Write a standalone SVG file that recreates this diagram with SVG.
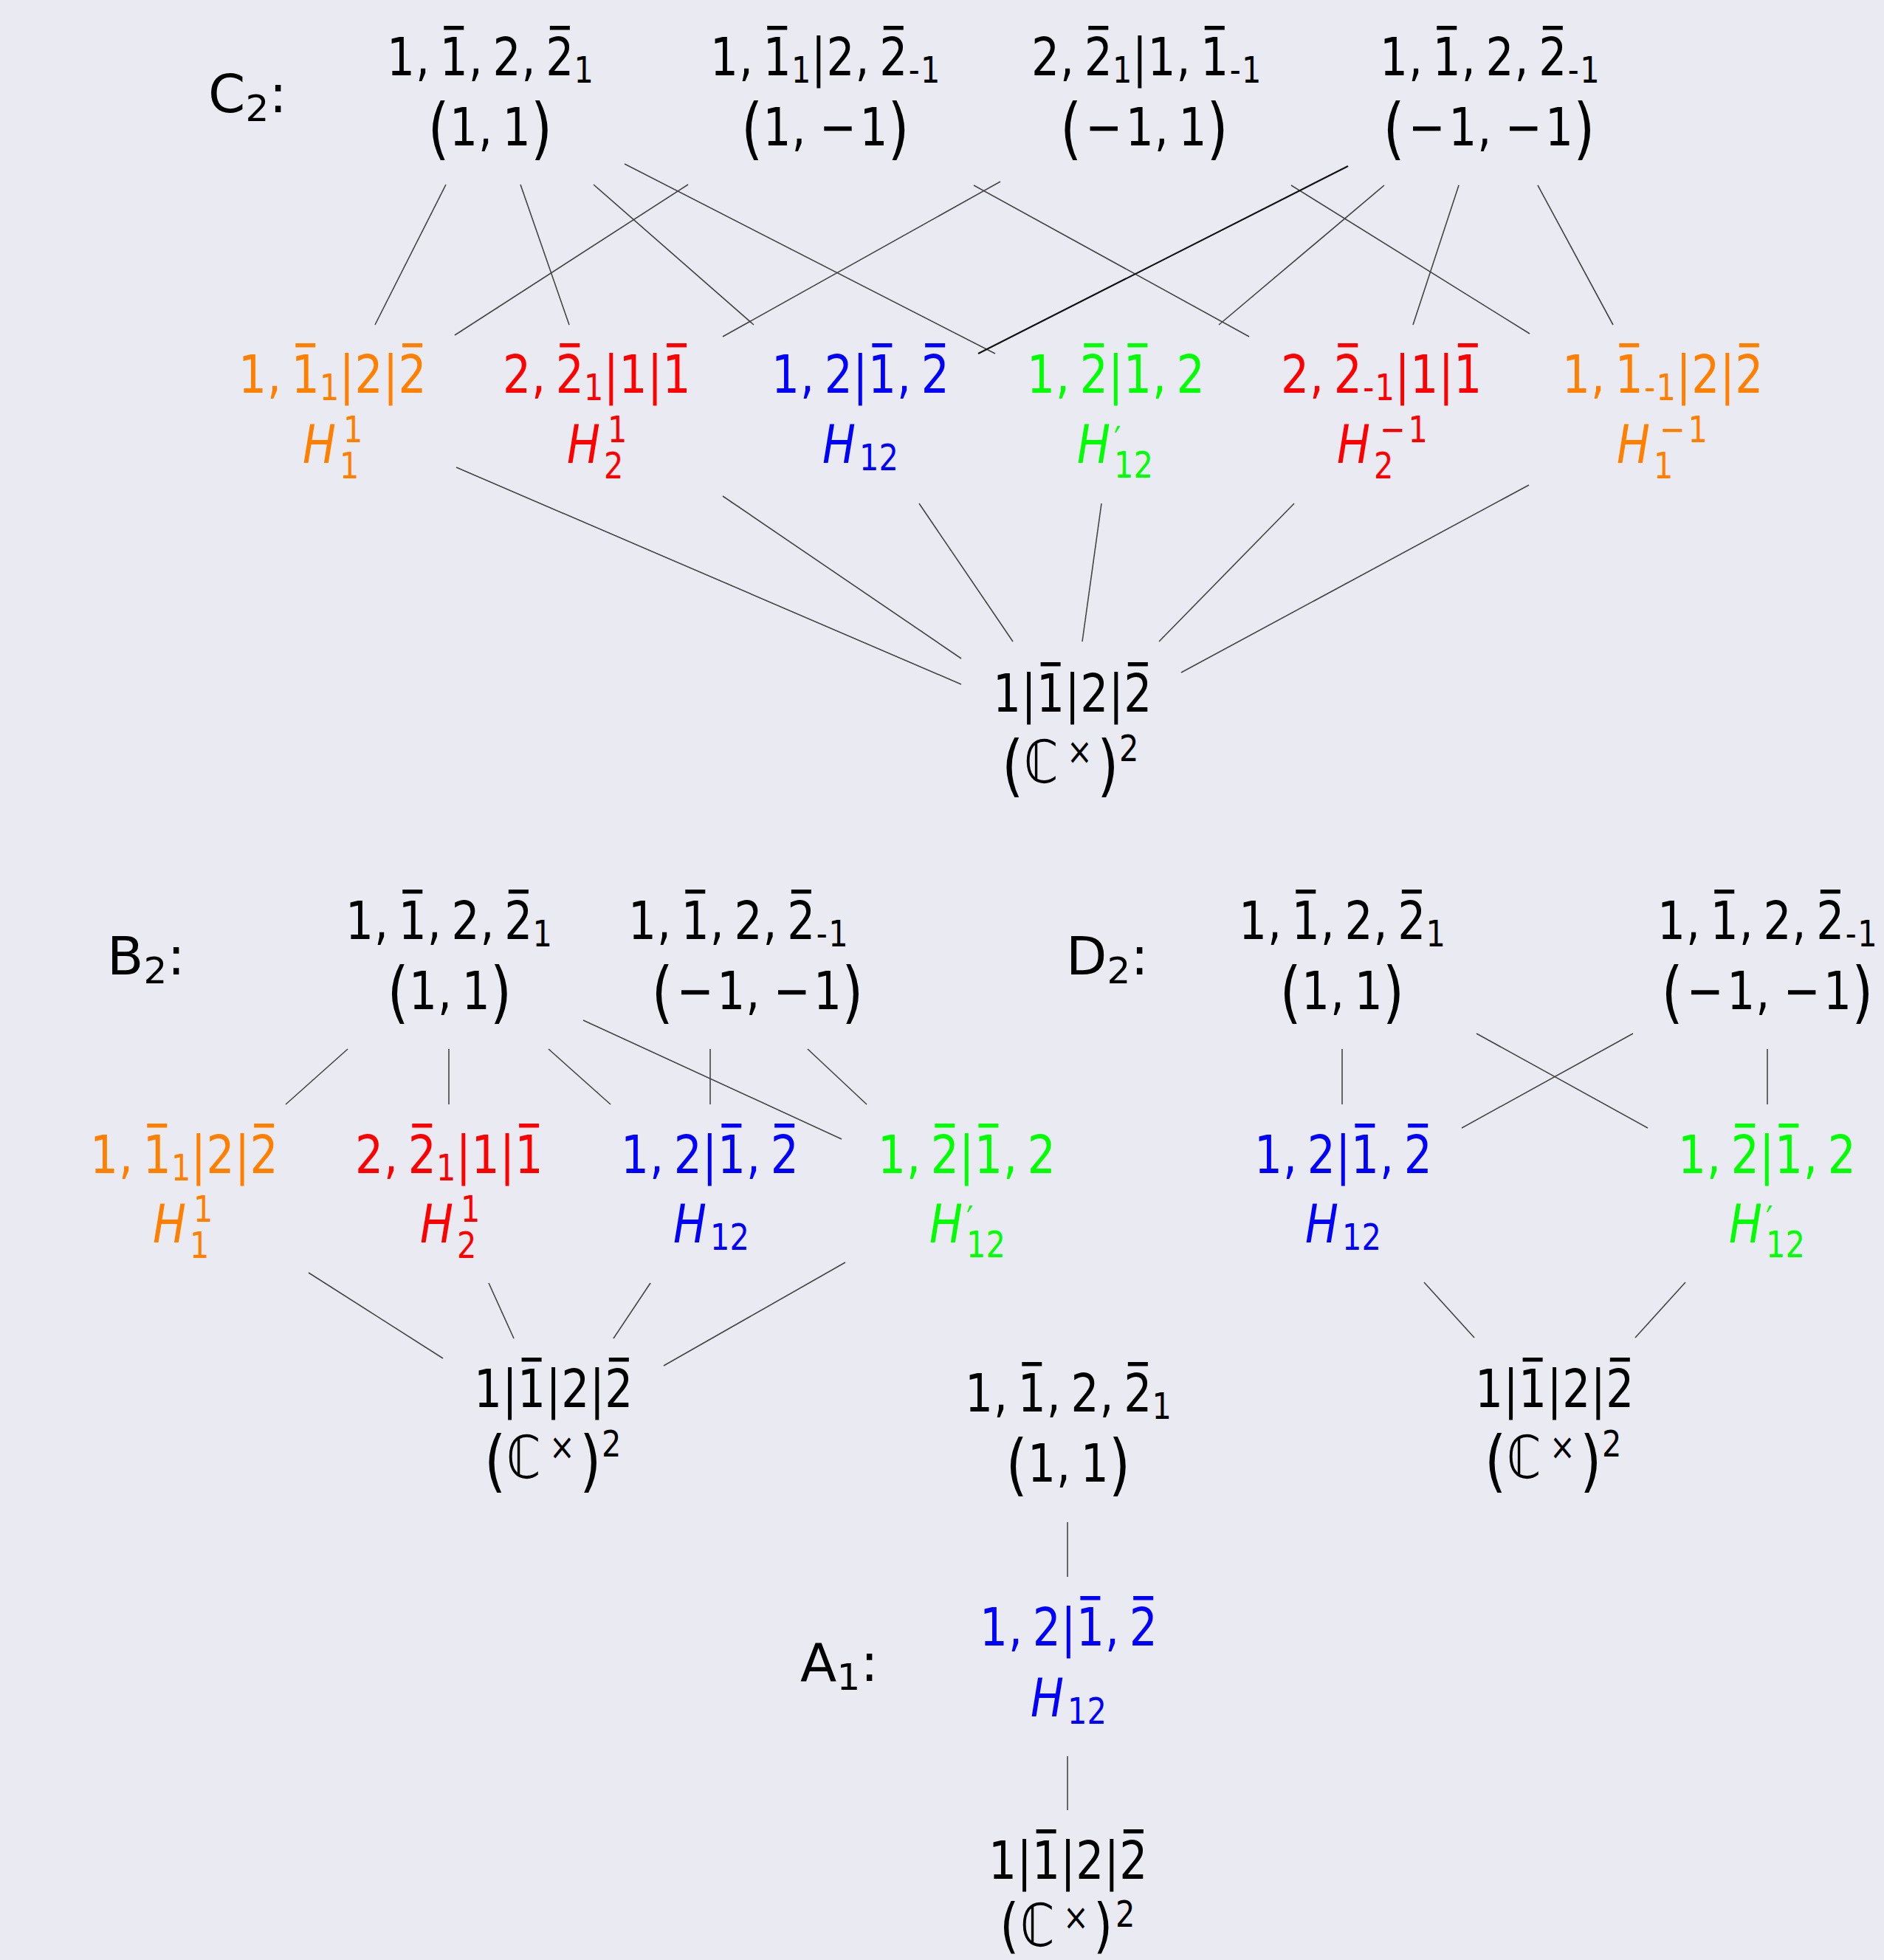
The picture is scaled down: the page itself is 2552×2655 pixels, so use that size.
<svg xmlns="http://www.w3.org/2000/svg" width="2552" height="2655" viewBox="0 0 2552 2655">
<style>
text{font-family:"DejaVu Sans","Liberation Sans",sans-serif;font-size:72px}
.s{font-size:50px}
.i{font-style:italic}
.p{font-size:90px}
.cc{font-size:80px}
.o{fill:#FF8000}.r{fill:#FF0000}.b{fill:#0000FF}.g{fill:#00FF00}
#edges line{stroke:#444;stroke-width:1.6}
#edges line.dk{stroke:#111;stroke-width:2.2}
</style>
<rect width="2552" height="2655" fill="#EAEAF2"/>
<g id="edges">
<line x1="604" y1="250" x2="508" y2="440"/>
<line x1="705" y1="250" x2="771" y2="440"/>
<line x1="804" y1="250" x2="1021" y2="440"/>
<line x1="846" y1="222" x2="1348" y2="479"/>
<line x1="932" y1="250" x2="616" y2="454"/>
<line x1="1319" y1="251" x2="1692" y2="456"/>
<line x1="1355" y1="246" x2="979" y2="456"/>
<line x1="1749" y1="251" x2="2072" y2="452"/>
<line class="dk" x1="1826" y1="225" x2="1325" y2="479"/>
<line x1="1875" y1="251" x2="1651" y2="440"/>
<line x1="1976" y1="251" x2="1914" y2="440"/>
<line x1="2083" y1="251" x2="2185" y2="440"/>
<line x1="618" y1="633" x2="1302" y2="927"/>
<line x1="979" y1="672" x2="1302" y2="892"/>
<line x1="1245" y1="682" x2="1372" y2="869"/>
<line x1="1492" y1="682" x2="1466" y2="869"/>
<line x1="1753" y1="682" x2="1570" y2="869"/>
<line x1="2071" y1="657" x2="1600" y2="911"/>
<line x1="471" y1="1421" x2="387" y2="1496"/>
<line x1="608" y1="1421" x2="608" y2="1496"/>
<line x1="743" y1="1421" x2="827" y2="1496"/>
<line x1="790" y1="1382" x2="1140" y2="1543"/>
<line x1="962" y1="1421" x2="962" y2="1496"/>
<line x1="1094" y1="1421" x2="1174" y2="1496"/>
<line x1="418" y1="1724" x2="600" y2="1840"/>
<line x1="662" y1="1738" x2="696" y2="1813"/>
<line x1="881" y1="1738" x2="831" y2="1813"/>
<line x1="1145" y1="1710" x2="899" y2="1850"/>
<line x1="1818" y1="1421" x2="1818" y2="1496"/>
<line x1="2394" y1="1421" x2="2394" y2="1496"/>
<line x1="2000" y1="1400" x2="2232" y2="1528"/>
<line x1="2212" y1="1400" x2="1980" y2="1528"/>
<line x1="1929" y1="1737" x2="1997" y2="1812"/>
<line x1="2283" y1="1737" x2="2215" y2="1812"/>
<line x1="1446" y1="2062" x2="1446" y2="2136"/>
<line x1="1446" y1="2379" x2="1446" y2="2452"/>
</g>

<!-- ===== C2 ===== -->
<g id="c2-label">
<text x="282" y="152">C</text><text class="s" x="332.5" y="164">2</text><text x="364.5" y="152">:</text>
</g>
<g id="c2-top-pp">
<g transform="translate(524,0)">
<text transform="scale(.83,1)" x="0 47.05 71.22 86.48 133.53 157.7 172.96 220.01 244.18 259.45" y="102">1, 1, 2, 2</text>
<text class="s" transform="scale(.83,1)" x="305.35" y="112">1</text>
<rect x="77.28" y="35" width="27" height="5.5"/><rect x="220.84" y="35" width="27" height="5.5"/>
</g>
<g transform="translate(579.5,0)"><text transform="scale(.83,1)" x="0 35.61 82.66 106.83 122.1 168.07" y="205 197 197 197 197 205"><tspan class="p">(</tspan>1, 1<tspan class="p">)</tspan></text></g>
</g>
<g id="c2-top-pm">
<g transform="translate(962,0)">
<text transform="scale(.83,1)" x="0 47.05 71.22 86.48" y="102">1, 1</text>
<text class="s" transform="scale(.83,1)" x="132.39" y="112">1</text>
<text transform="scale(.83,1)" x="164.9 189.75 236.8 260.96 276.23" y="102">|2, 2</text>
<text class="s" transform="scale(.83,1)" x="323.66 343.49" y="112">-1</text>
<rect x="77.28" y="35" width="27" height="5.5"/><rect x="234.77" y="35" width="27" height="5.5"/>
</g>
<g transform="translate(1004,0)"><text transform="scale(.83,1)" x="0 35.61 82.66 106.83 127.54 193.31 239.28" y="205 197 197 197 197 197 205"><tspan class="p">(</tspan>1, &#8722;1<tspan class="p">)</tspan></text></g>
</g>
<g id="c2-top-mp">
<g transform="translate(1397,0)">
<text transform="scale(.83,1)" x="0 47.05 71.22 86.48" y="102">2, 2</text>
<text class="s" transform="scale(.83,1)" x="132.39" y="112">1</text>
<text transform="scale(.83,1)" x="164.9 189.75 236.8 260.96 276.23" y="102">|1, 1</text>
<text class="s" transform="scale(.83,1)" x="323.66 343.49" y="112">-1</text>
<rect x="77.28" y="35" width="27" height="5.5"/><rect x="234.77" y="35" width="27" height="5.5"/>
</g>
<g transform="translate(1436,0)"><text transform="scale(.83,1)" x="0 41.06 106.83 153.88 178.05 193.31 239.28" y="205 197 197 197 197 197 205"><tspan class="p">(</tspan>&#8722;1, 1<tspan class="p">)</tspan></text></g>
</g>
<g id="c2-top-mm">
<g transform="translate(1869,0)">
<text transform="scale(.83,1)" x="0 47.05 71.22 86.48 133.53 157.7 172.96 220.01 244.18 259.45" y="102">1, 1, 2, 2</text>
<text class="s" transform="scale(.83,1)" x="306.88 326.71" y="112">-1</text>
<rect x="77.28" y="35" width="27" height="5.5"/><rect x="220.84" y="35" width="27" height="5.5"/>
</g>
<g transform="translate(1873.5,0)"><text transform="scale(.83,1)" x="0 41.06 106.83 153.88 178.05 198.76 264.53 310.5" y="205 197 197 197 197 197 197 205"><tspan class="p">(</tspan>&#8722;1, &#8722;1<tspan class="p">)</tspan></text></g>
</g>
<g id="c2-H1p" class="o">
<g transform="translate(323,0)">
<text transform="scale(.83,1)" x="0 47.05 71.22 86.48" y="532">1, 1</text>
<text class="s" transform="scale(.83,1)" x="132.39" y="542">1</text>
<text transform="scale(.83,1)" x="164.9 189.75 236.12 260.96" y="532">|2|2</text>
<rect x="77.28" y="465" width="27" height="5.5"/><rect x="222.1" y="465" width="27" height="5.5"/>
</g>
<g transform="translate(410,0)">
<text class="i" transform="scale(.83,1)" x="0" y="627">H</text>
<text class="s" transform="scale(.83,1)" x="66.27 60.24" y="599 648">11</text>
</g>
</g>
<g id="c2-H2p" class="r">
<g transform="translate(681,0)">
<text transform="scale(.83,1)" x="0 47.05 71.22 86.48" y="532">2, 2</text>
<text class="s" transform="scale(.83,1)" x="132.39" y="542">1</text>
<text transform="scale(.83,1)" x="164.9 189.75 236.12 260.96" y="532">|1|1</text>
<rect x="77.28" y="465" width="27" height="5.5"/><rect x="222.1" y="465" width="27" height="5.5"/>
</g>
<g transform="translate(768,0)">
<text class="i" transform="scale(.83,1)" x="0" y="627">H</text>
<text class="s" transform="scale(.83,1)" x="66.27 60.24" y="599 648">12</text>
</g>
</g>
<g id="c2-H12" class="b">
<g transform="translate(1045,0)">
<text transform="scale(.83,1)" x="0 47.05 71.22 86.48 132.86 157.7 204.75 228.92 244.18" y="532">1, 2|1, 2</text>
<rect x="136.39" y="465" width="27" height="5.5"/><rect x="208.17" y="465" width="27" height="5.5"/>
</g>
<g transform="translate(1114,0)">
<text class="i" transform="scale(.83,1)" x="0" y="627">H</text>
<text class="s" transform="scale(.83,1)" x="60.24 92.29" y="637">12</text>
</g>
</g>
<g id="c2-H12p" class="g">
<g transform="translate(1391,0)">
<text transform="scale(.83,1)" x="0 47.05 71.22 86.48 132.86 157.7 204.75 228.92 244.18" y="532">1, 2|1, 2</text>
<rect x="77.28" y="465" width="27" height="5.5"/><rect x="136.39" y="465" width="27" height="5.5"/>
</g>
<g transform="translate(1459,0)">
<text class="i" transform="scale(.83,1)" x="0" y="627">H</text>
<text class="s" transform="scale(.83,1)" x="60.24 60.24 92.29" y="613 647 647">&#8242;12</text>
</g>
</g>
<g id="c2-H2m" class="r">
<g transform="translate(1735,0)">
<text transform="scale(.83,1)" x="0 47.05 71.22 86.48" y="532">2, 2</text>
<text class="s" transform="scale(.83,1)" x="133.92 153.75" y="542">-1</text>
<text transform="scale(.83,1)" x="186.27 211.11 257.48 282.33" y="532">|1|1</text>
<rect x="77.28" y="465" width="27" height="5.5"/><rect x="239.83" y="465" width="27" height="5.5"/>
</g>
<g transform="translate(1811,0)">
<text class="i" transform="scale(.83,1)" x="0" y="627">H</text>
<text class="s" transform="scale(.83,1)" x="70.24 116.12 60.24" y="599 599 648">&#8722;12</text>
</g>
</g>
<g id="c2-H1m" class="o">
<g transform="translate(2116,0)">
<text transform="scale(.83,1)" x="0 47.05 71.22 86.48" y="532">1, 1</text>
<text class="s" transform="scale(.83,1)" x="133.92 153.75" y="542">-1</text>
<text transform="scale(.83,1)" x="186.27 211.11 257.48 282.33" y="532">|2|2</text>
<rect x="77.28" y="465" width="27" height="5.5"/><rect x="239.83" y="465" width="27" height="5.5"/>
</g>
<g transform="translate(2190,0)">
<text class="i" transform="scale(.83,1)" x="0" y="627">H</text>
<text class="s" transform="scale(.83,1)" x="70.24 116.12 60.24" y="599 599 648">&#8722;11</text>
</g>
</g>
<g id="c2-bottom">
<g transform="translate(1345,0)">
<text transform="scale(.83,1)" x="0 46.37 71.22 117.59 142.43 188.81 213.65" y="964">1|1|2|2</text>
<rect x="64.61" y="897" width="27" height="5.5"/><rect x="182.83" y="897" width="27" height="5.5"/>
</g>
<g transform="translate(1361,0)">
<text transform="scale(.83,1)" x="-4.82 31.33 101.2 150.96 186.75" y="1068 1060 1035 1068 1031"><tspan class="p">(</tspan><tspan class="cc">&#8450;</tspan><tspan class="s">&#215;</tspan><tspan class="p">)</tspan><tspan class="s">2</tspan></text>
</g>
</g>

<!-- ===== B2 ===== -->
<g id="b2-label">
<text x="145" y="1320">B</text><text class="s" x="194.5" y="1332">2</text><text x="226.5" y="1320">:</text>
</g>
<g id="b2-top-pp">
<g transform="translate(468,0)">
<text transform="scale(.83,1)" x="0 47.05 71.22 86.48 133.53 157.7 172.96 220.01 244.18 259.45" y="1272">1, 1, 2, 2</text>
<text class="s" transform="scale(.83,1)" x="305.35" y="1282">1</text>
<rect x="77.28" y="1205" width="27" height="5.5"/><rect x="220.84" y="1205" width="27" height="5.5"/>
</g>
<g transform="translate(524.5,0)"><text transform="scale(.83,1)" x="0 35.61 82.66 106.83 122.1 168.07" y="1375 1367 1367 1367 1367 1375"><tspan class="p">(</tspan>1, 1<tspan class="p">)</tspan></text></g>
</g>
<g id="b2-top-mm">
<g transform="translate(851,0)">
<text transform="scale(.83,1)" x="0 47.05 71.22 86.48 133.53 157.7 172.96 220.01 244.18 259.45" y="1272">1, 1, 2, 2</text>
<text class="s" transform="scale(.83,1)" x="306.88 326.71" y="1282">-1</text>
<rect x="77.28" y="1205" width="27" height="5.5"/><rect x="220.84" y="1205" width="27" height="5.5"/>
</g>
<g transform="translate(882.5,0)"><text transform="scale(.83,1)" x="0 41.06 106.83 153.88 178.05 198.76 264.53 310.5" y="1375 1367 1367 1367 1367 1367 1367 1375"><tspan class="p">(</tspan>&#8722;1, &#8722;1<tspan class="p">)</tspan></text></g>
</g>
<g id="b2-H1" class="o">
<g transform="translate(122,0)">
<text transform="scale(.83,1)" x="0 47.05 71.22 86.48" y="1589">1, 1</text>
<text class="s" transform="scale(.83,1)" x="132.39" y="1599">1</text>
<text transform="scale(.83,1)" x="164.9 189.75 236.12 260.96" y="1589">|2|2</text>
<rect x="77.28" y="1522" width="27" height="5.5"/><rect x="222.1" y="1522" width="27" height="5.5"/>
</g>
<g transform="translate(207,0)">
<text class="i" transform="scale(.83,1)" x="0" y="1683">H</text>
<text class="s" transform="scale(.83,1)" x="66.27 60.24" y="1655 1704">11</text>
</g>
</g>
<g id="b2-H2" class="r">
<g transform="translate(481,0)">
<text transform="scale(.83,1)" x="0 47.05 71.22 86.48" y="1589">2, 2</text>
<text class="s" transform="scale(.83,1)" x="132.39" y="1599">1</text>
<text transform="scale(.83,1)" x="164.9 189.75 236.12 260.96" y="1589">|1|1</text>
<rect x="77.28" y="1522" width="27" height="5.5"/><rect x="222.1" y="1522" width="27" height="5.5"/>
</g>
<g transform="translate(569,0)">
<text class="i" transform="scale(.83,1)" x="0" y="1683">H</text>
<text class="s" transform="scale(.83,1)" x="66.27 60.24" y="1655 1704">12</text>
</g>
</g>
<g id="b2-H12" class="b">
<g transform="translate(841,0)">
<text transform="scale(.83,1)" x="0 47.05 71.22 86.48 132.86 157.7 204.75 228.92 244.18" y="1589">1, 2|1, 2</text>
<rect x="136.39" y="1522" width="27" height="5.5"/><rect x="208.17" y="1522" width="27" height="5.5"/>
</g>
<g transform="translate(912,0)">
<text class="i" transform="scale(.83,1)" x="0" y="1683">H</text>
<text class="s" transform="scale(.83,1)" x="60.24 92.29" y="1693">12</text>
</g>
</g>
<g id="b2-H12p" class="g">
<g transform="translate(1189,0)">
<text transform="scale(.83,1)" x="0 47.05 71.22 86.48 132.86 157.7 204.75 228.92 244.18" y="1589">1, 2|1, 2</text>
<rect x="77.28" y="1522" width="27" height="5.5"/><rect x="136.39" y="1522" width="27" height="5.5"/>
</g>
<g transform="translate(1259,0)">
<text class="i" transform="scale(.83,1)" x="0" y="1683">H</text>
<text class="s" transform="scale(.83,1)" x="60.24 60.24 92.29" y="1669 1703 1703">&#8242;12</text>
</g>
</g>
<g id="b2-bottom">
<g transform="translate(642,0)">
<text transform="scale(.83,1)" x="0 46.37 71.22 117.59 142.43 188.81 213.65" y="1906">1|1|2|2</text>
<rect x="64.61" y="1839" width="27" height="5.5"/><rect x="182.83" y="1839" width="27" height="5.5"/>
</g>
<g transform="translate(660,0)">
<text transform="scale(.83,1)" x="-4.82 31.33 101.2 150.96 186.75" y="2010 2002 1977 2010 1973"><tspan class="p">(</tspan><tspan class="cc">&#8450;</tspan><tspan class="s">&#215;</tspan><tspan class="p">)</tspan><tspan class="s">2</tspan></text>
</g>
</g>

<!-- ===== D2 ===== -->
<g id="d2-label">
<text x="1444" y="1320">D</text><text class="s" x="1499.5" y="1332">2</text><text x="1531.5" y="1320">:</text>
</g>
<g id="d2-top-pp">
<g transform="translate(1678,0)">
<text transform="scale(.83,1)" x="0 47.05 71.22 86.48 133.53 157.7 172.96 220.01 244.18 259.45" y="1272">1, 1, 2, 2</text>
<text class="s" transform="scale(.83,1)" x="305.35" y="1282">1</text>
<rect x="77.28" y="1205" width="27" height="5.5"/><rect x="220.84" y="1205" width="27" height="5.5"/>
</g>
<g transform="translate(1733.5,0)"><text transform="scale(.83,1)" x="0 35.61 82.66 106.83 122.1 168.07" y="1375 1367 1367 1367 1367 1375"><tspan class="p">(</tspan>1, 1<tspan class="p">)</tspan></text></g>
</g>
<g id="d2-top-mm">
<g transform="translate(2245,0)">
<text transform="scale(.83,1)" x="0 47.05 71.22 86.48 133.53 157.7 172.96 220.01 244.18 259.45" y="1272">1, 1, 2, 2</text>
<text class="s" transform="scale(.83,1)" x="306.88 326.71" y="1282">-1</text>
<rect x="77.28" y="1205" width="27" height="5.5"/><rect x="220.84" y="1205" width="27" height="5.5"/>
</g>
<g transform="translate(2250.5,0)"><text transform="scale(.83,1)" x="0 41.06 106.83 153.88 178.05 198.76 264.53 310.5" y="1375 1367 1367 1367 1367 1367 1367 1375"><tspan class="p">(</tspan>&#8722;1, &#8722;1<tspan class="p">)</tspan></text></g>
</g>
<g id="d2-H12" class="b">
<g transform="translate(1699,0)">
<text transform="scale(.83,1)" x="0 47.05 71.22 86.48 132.86 157.7 204.75 228.92 244.18" y="1589">1, 2|1, 2</text>
<rect x="136.39" y="1522" width="27" height="5.5"/><rect x="208.17" y="1522" width="27" height="5.5"/>
</g>
<g transform="translate(1768,0)">
<text class="i" transform="scale(.83,1)" x="0" y="1683">H</text>
<text class="s" transform="scale(.83,1)" x="60.24 92.29" y="1693">12</text>
</g>
</g>
<g id="d2-H12p" class="g">
<g transform="translate(2273,0)">
<text transform="scale(.83,1)" x="0 47.05 71.22 86.48 132.86 157.7 204.75 228.92 244.18" y="1589">1, 2|1, 2</text>
<rect x="77.28" y="1522" width="27" height="5.5"/><rect x="136.39" y="1522" width="27" height="5.5"/>
</g>
<g transform="translate(2342,0)">
<text class="i" transform="scale(.83,1)" x="0" y="1683">H</text>
<text class="s" transform="scale(.83,1)" x="60.24 60.24 92.29" y="1669 1703 1703">&#8242;12</text>
</g>
</g>
<g id="d2-bottom">
<g transform="translate(1998,0)">
<text transform="scale(.83,1)" x="0 46.37 71.22 117.59 142.43 188.81 213.65" y="1906">1|1|2|2</text>
<rect x="64.61" y="1839" width="27" height="5.5"/><rect x="182.83" y="1839" width="27" height="5.5"/>
</g>
<g transform="translate(2015,0)">
<text transform="scale(.83,1)" x="-4.82 31.33 101.2 150.96 186.75" y="2010 2002 1977 2010 1973"><tspan class="p">(</tspan><tspan class="cc">&#8450;</tspan><tspan class="s">&#215;</tspan><tspan class="p">)</tspan><tspan class="s">2</tspan></text>
</g>
</g>

<!-- ===== A1 ===== -->
<g id="a1-label">
<text x="1084" y="2277">A</text><text class="s" x="1133.5" y="2289">1</text><text x="1165.5" y="2277">:</text>
</g>
<g id="a1-top">
<g transform="translate(1307,0)">
<text transform="scale(.83,1)" x="0 47.05 71.22 86.48 133.53 157.7 172.96 220.01 244.18 259.45" y="1912">1, 1, 2, 2</text>
<text class="s" transform="scale(.83,1)" x="305.35" y="1922">1</text>
<rect x="77.28" y="1845" width="27" height="5.5"/><rect x="220.84" y="1845" width="27" height="5.5"/>
</g>
<g transform="translate(1362.5,0)"><text transform="scale(.83,1)" x="0 35.61 82.66 106.83 122.1 168.07" y="2015 2007 2007 2007 2007 2015"><tspan class="p">(</tspan>1, 1<tspan class="p">)</tspan></text></g>
</g>
<g id="a1-H12" class="b">
<g transform="translate(1327,0)">
<text transform="scale(.83,1)" x="0 47.05 71.22 86.48 132.86 157.7 204.75 228.92 244.18" y="2229">1, 2|1, 2</text>
<rect x="136.39" y="2162" width="27" height="5.5"/><rect x="208.17" y="2162" width="27" height="5.5"/>
</g>
<g transform="translate(1396,0)">
<text class="i" transform="scale(.83,1)" x="0" y="2325">H</text>
<text class="s" transform="scale(.83,1)" x="60.24 92.29" y="2335">12</text>
</g>
</g>
<g id="a1-bottom">
<g transform="translate(1339,0)">
<text transform="scale(.83,1)" x="0 46.37 71.22 117.59 142.43 188.81 213.65" y="2545">1|1|2|2</text>
<rect x="64.61" y="2478" width="27" height="5.5"/><rect x="182.83" y="2478" width="27" height="5.5"/>
</g>
<g transform="translate(1356,0)">
<text transform="scale(.83,1)" x="-2 31.33 101.2 150.96 186.75" y="2636 2636 2614 2636 2610"><tspan class="cc">(</tspan><tspan class="cc">&#8450;</tspan><tspan class="s">&#215;</tspan><tspan class="cc">)</tspan><tspan class="s">2</tspan></text>
</g>
</g>
</svg>
